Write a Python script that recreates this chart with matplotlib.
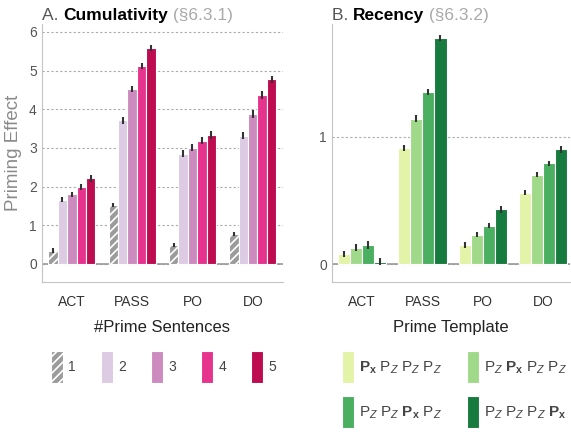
import numpy as np
import matplotlib
matplotlib.use("Agg")
import matplotlib.pyplot as plt

plt.rcParams['font.family'] = ['Liberation Sans', 'DejaVu Sans']
plt.rcParams['mathtext.fontset'] = 'custom'
plt.rcParams['mathtext.rm'] = 'Liberation Sans'
plt.rcParams['mathtext.it'] = 'Liberation Sans:italic'
plt.rcParams['mathtext.bf'] = 'Liberation Sans:bold'
plt.rcParams['hatch.linewidth'] = 1.2

## data ##
categories = ['ACT', 'PASS', 'PO', 'DO']

n_prime = ['1', '2', '3', '4', '5']
cum_vals = [
    [0.34, 1.52, 0.49, 0.77],
    [1.66, 3.71, 2.85, 3.32],
    [1.80, 4.53, 3.01, 3.88],
    [1.99, 5.12, 3.18, 4.37],
    [2.22, 5.58, 3.34, 4.77],
]
cum_err = [
    [0.06, 0.06, 0.06, 0.05],
    [0.07, 0.08, 0.09, 0.08],
    [0.07, 0.08, 0.09, 0.10],
    [0.07, 0.07, 0.09, 0.10],
    [0.09, 0.08, 0.10, 0.10],
]

templates = [r'$\mathbf{P_x}\ \mathrm{P}_Z\ \mathrm{P}_Z\ \mathrm{P}_Z$',
             r'$\mathrm{P}_Z\ \mathbf{P_x}\ \mathrm{P}_Z\ \mathrm{P}_Z$',
             r'$\mathrm{P}_Z\ \mathrm{P}_Z\ \mathbf{P_x}\ \mathrm{P}_Z$',
             r'$\mathrm{P}_Z\ \mathrm{P}_Z\ \mathrm{P}_Z\ \mathbf{P_x}$']
rec_vals = [
    [0.08, 0.91, 0.15, 0.56],
    [0.13, 1.14, 0.23, 0.70],
    [0.15, 1.35, 0.30, 0.79],
    [0.02, 1.77, 0.43, 0.90],
]
rec_err = [
    [0.025, 0.025, 0.025, 0.02],
    [0.025, 0.025, 0.02, 0.02],
    [0.03, 0.025, 0.02, 0.02],
    [0.03, 0.025, 0.025, 0.025],
]

cum_colors = ['#9b9b9b', '#dccbe3', '#cd8abf', '#e5338e', '#bd0c50']
rec_colors = ['#e3f4a9', '#a1d98a', '#4baf61', '#177a3e']

fig = plt.figure(figsize=(5.71, 4.32), dpi=100)
axA = fig.add_axes([0.073, 0.347, 0.4226, 0.597])
axB = fig.add_axes([0.5814, 0.347, 0.417, 0.597])

x = np.arange(len(categories))

def style_ax(ax, yticks, ylim, xlim):
    ax.set_ylim(ylim)
    ax.set_xlim(xlim)
    ax.set_yticks(yticks)
    ax.yaxis.grid(True, linestyle=(0, (2, 2)), color='#aaaaaa', linewidth=0.8)
    ax.set_axisbelow(True)
    for s in ['top', 'right']:
        ax.spines[s].set_visible(False)
    ax.spines['left'].set_color('#c4c4c4')
    ax.spines['bottom'].set_color('#c4c4c4')
    ax.axhline(0, color='#999999', linewidth=1.2, zorder=1)
    ax.tick_params(length=0, labelsize=10, colors='#555555')
    ax.tick_params(axis='x', pad=9, colors='#333333')
    ax.set_xticks(x)
    ax.set_xticklabels(categories)

## A. Cumulativity ##
w = 0.155
handlesA = []
for i in range(len(n_prime)):
    pos = x + (i - 2) * w
    if i == 0:
        b = axA.bar(pos, cum_vals[i], w, color=cum_colors[i], edgecolor='white',
                    hatch='////', linewidth=0.8, zorder=2)
    else:
        b = axA.bar(pos, cum_vals[i], w, color=cum_colors[i], edgecolor='white',
                    linewidth=0.8, zorder=2)
    axA.errorbar(pos, cum_vals[i], yerr=cum_err[i], fmt='none', ecolor='#333333',
                 elinewidth=1.5, capsize=0, zorder=3)
    handlesA.append(b)

style_ax(axA, range(0, 7), (-0.47, 6.2), (-0.5, 3.5))
axA.set_ylabel('Priming Effect', fontsize=13.5, color='#8a8a8a', labelpad=5)
axA.set_xlabel('#Prime Sentences', fontsize=12, color='#222222', labelpad=8)

## B. Recency ##
w2 = 0.2
handlesB = []
for i in range(len(templates)):
    pos = x + (i - 1.5) * w2
    b = axB.bar(pos, rec_vals[i], w2, color=rec_colors[i], edgecolor='white',
                linewidth=0.8, zorder=2)
    axB.errorbar(pos, rec_vals[i], yerr=rec_err[i], fmt='none', ecolor='#333333',
                 elinewidth=1.5, capsize=0, zorder=3)
    handlesB.append(b)

style_ax(axB, [0, 1], (-0.14, 1.88), (-0.5, 3.45))
axB.set_xlabel('Prime Template', fontsize=12, color='#222222', labelpad=8)

## titles ##
def title(ax, a, b, c):
    t1 = ax.text(0, 1.005, a, transform=ax.transAxes, fontsize=12.5,
                 color='#555555', va='bottom', ha='left')
    t2 = ax.annotate(b, xy=(1, 0), xycoords=t1, fontsize=12.5, fontweight='bold',
                     color='black', va='bottom', ha='left')
    ax.annotate(c, xy=(1, 0), xycoords=t2, fontsize=12.5, color='#aaaaaa',
                va='bottom', ha='left')

title(axA, 'A. ', 'Cumulativity', ' (§6.3.1)')
title(axB, 'B. ', 'Recency', ' (§6.3.2)')

## legends ##
fig.legend(handlesA, n_prime, loc='upper left', bbox_to_anchor=(0.089, 0.188),
           ncol=5, frameon=False, fontsize=10, handlelength=0.85, handleheight=3.16,
           handletextpad=0.4, columnspacing=1.8, labelcolor='#444444',
           borderaxespad=0, borderpad=0)
order = [0, 2, 1, 3]
fig.legend([handlesB[k] for k in order], [templates[k] for k in order],
           loc='upper left', bbox_to_anchor=(0.599, 0.188),
           ncol=2, frameon=False, fontsize=11, handlelength=0.78, handleheight=2.84,
           handletextpad=0.3, columnspacing=1.7, labelspacing=0.85,
           labelcolor='#444444', borderaxespad=0, borderpad=0)

fig.savefig('out.png', dpi=100)
